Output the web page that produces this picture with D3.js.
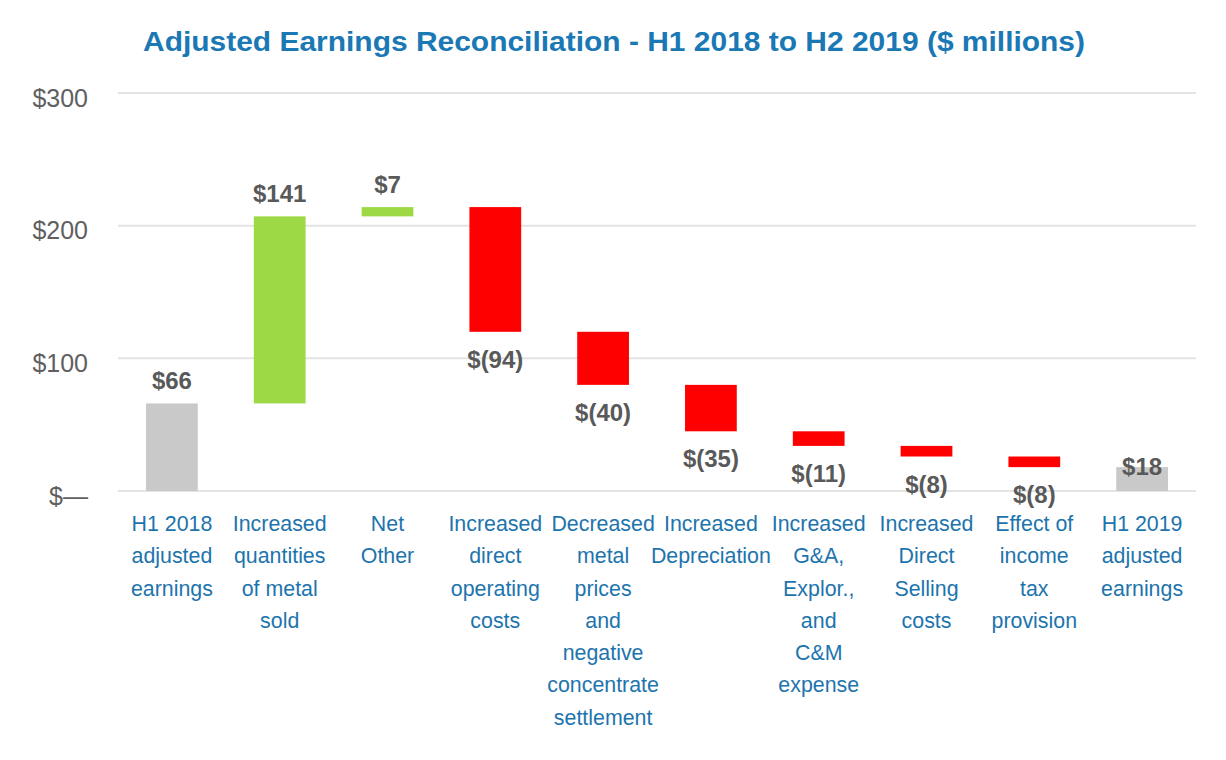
<!DOCTYPE html>
<html>
<head>
<meta charset="utf-8">
<script src="https://cdn.jsdelivr.net/npm/d3@7"></script>
<style>
  html, body { margin: 0; padding: 0; background: #fff; }
  svg { display: block; }
</style>
</head>
<body>
<script>
// ---- Data ----
const categories = [
  ["H1 2018", "adjusted", "earnings"],
  ["Increased", "quantities", "of metal", "sold"],
  ["Net", "Other"],
  ["Increased", "direct", "operating", "costs"],
  ["Decreased", "metal", "prices", "and", "negative", "concentrate", "settlement"],
  ["Increased", "Depreciation"],
  ["Increased", "G&A,", "Explor.,", "and", "C&M", "expense"],
  ["Increased", "Direct", "Selling", "costs"],
  ["Effect of", "income", "tax", "provision"],
  ["H1 2019", "adjusted", "earnings"]
];
const values = [66, 141, 7, -94, -40, -35, -11, -8, -8, 18];
const kinds = ["total", "delta", "delta", "delta", "delta", "delta", "delta", "delta", "delta", "total"];
const valueLabels = ["$66", "$141", "$7", "$(94)", "$(40)", "$(35)", "$(11)", "$(8)", "$(8)", "$18"];
const yTicks = [0, 100, 200, 300];
const yTickLabels = ["$—", "$100", "$200", "$300"];
const title = "Adjusted Earnings Reconciliation - H1 2018 to H2 2019 ($ millions)";

// ---- Layout ----
const W = 1226, H = 760;

const svg = d3.select("body").append("svg").attr("width", W).attr("height", H);

const x = d3.scaleBand()
  .domain(d3.range(categories.length))
  .range([118, 1196])
  .paddingInner(0.52)
  .paddingOuter(0.26);

const y = d3.scaleLinear().domain([0, 300]).range([491, 93]);

// waterfall computation
let running = 0;
const bars = values.map((v, i) => {
  let start, end;
  if (kinds[i] === "total") { start = 0; end = v; running = v; }
  else { start = running; end = running + v; running = end; }
  return { i, v, start, end, kind: kinds[i], label: valueLabels[i] };
});

// title
svg.append("text")
  .attr("x", 143).attr("y", 51)
  .attr("text-anchor", "start")
  .attr("font-family", "'Liberation Sans', Arial, sans-serif")
  .attr("font-weight", "bold")
  .attr("font-size", 28)
  .attr("textLength", 942)
  .attr("lengthAdjust", "spacingAndGlyphs")
  .attr("fill", "#1a78b4")
  .text(title);

// gridlines
const grid = svg.append("g");
grid.selectAll("line").data(yTicks).join("line")
  .attr("x1", 118).attr("x2", 1196)
  .attr("y1", d => y(d)).attr("y2", d => y(d))
  .attr("stroke", "#e3e3e3").attr("stroke-width", 2);

// y axis
const yAxis = d3.axisLeft(y).tickValues(yTicks).tickSize(0).tickPadding(0)
  .tickFormat(d => yTickLabels[yTicks.indexOf(d)]);
const ya = svg.append("g").attr("transform", "translate(88,0)").call(yAxis);
ya.select(".domain").remove();
ya.selectAll("text")
  .attr("font-family", "'Liberation Sans', Arial, sans-serif")
  .attr("font-size", 25)
  .attr("fill", "#606060")
  .attr("dy", "0.52em");

// bars
const colorFor = b => b.kind === "total" ? "#c9c9c9" : (b.v >= 0 ? "#9dd945" : "#ff0000");
svg.append("g").selectAll("rect").data(bars).join("rect")
  .attr("x", b => x(b.i))
  .attr("width", x.bandwidth())
  .attr("y", b => y(Math.max(b.start, b.end)))
  .attr("height", b => Math.abs(y(b.start) - y(b.end)))
  .attr("fill", colorFor);

// value labels
svg.append("g").selectAll("text").data(bars).join("text")
  .attr("x", b => x(b.i) + x.bandwidth() / 2)
  .attr("y", b => {
    const top = y(Math.max(b.start, b.end));
    const bot = y(Math.min(b.start, b.end));
    if (b.kind === "total" && b.i === bars.length - 1) return top + 8;
    return b.v >= 0 ? top - 14 : bot + 36;
  })
  .attr("text-anchor", "middle")
  .attr("font-family", "'Liberation Sans', Arial, sans-serif")
  .attr("font-weight", "bold")
  .attr("font-size", 24)
  .attr("fill", "#595959")
  .text(b => b.label);

// x axis category labels (slightly condensed horizontally)
const xAxis = d3.axisBottom(x).tickSize(0).tickFormat(() => "");
const xa = svg.append("g").attr("transform", "translate(0,491)").call(xAxis);
xa.select(".domain").remove();
xa.selectAll(".tick").each(function(d) {
  const t = d3.select(this).append("text")
    .attr("text-anchor", "middle")
    .attr("transform", "scale(0.93,1)")
    .attr("font-family", "'Liberation Sans', Arial, sans-serif")
    .attr("font-size", 23)
    .attr("fill", "#1d74ad")
    .attr("y", 40);
  categories[d].forEach((line, k) => {
    t.append("tspan").attr("x", 0).attr("y", 40 + k * 32.3).text(line);
  });
});
</script>
</body>
</html>
